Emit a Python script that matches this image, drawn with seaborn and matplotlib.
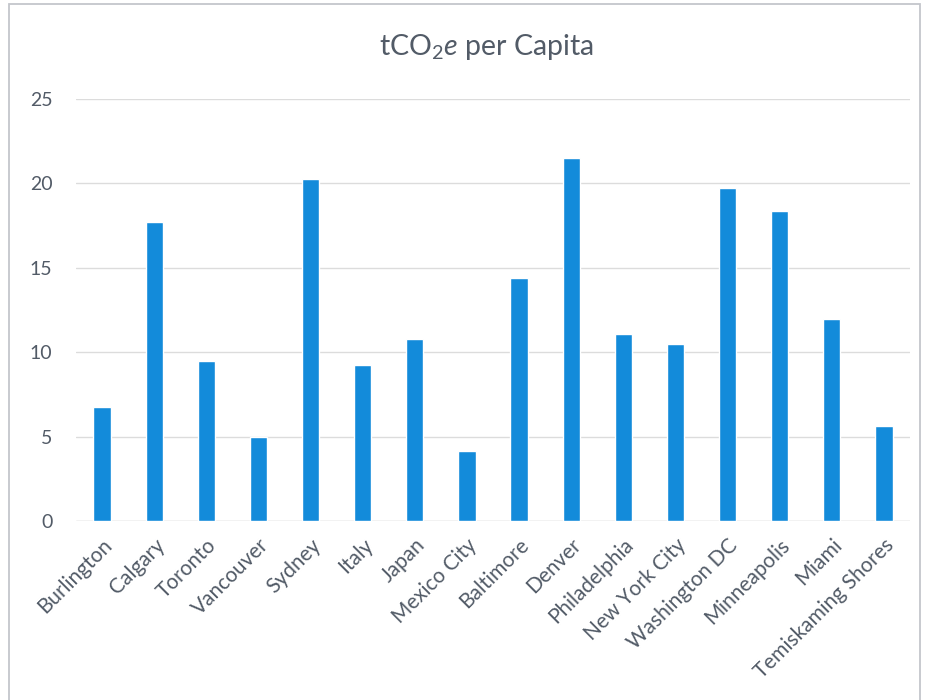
import matplotlib
matplotlib.use("Agg")
import matplotlib.pyplot as plt
import seaborn as sns
import pandas as pd
from matplotlib.patches import Rectangle

cities = ["Burlington", "Calgary", "Toronto", "Vancouver", "Sydney", "Italy", "Japan",
          "Mexico City", "Baltimore", "Denver", "Philadelphia", "New York City",
          "Washington DC", "Minneapolis", "Miami", "Temiskaming Shores"]
values = [6.75, 17.7, 9.5, 4.95, 20.25, 9.25, 10.8, 4.15, 14.4, 21.5, 11.05, 10.5,
          19.7, 18.35, 11.95, 5.65]
yticks = [0, 5, 10, 15, 20, 25]

sns.set_theme(style="white")
plt.rcParams['font.family'] = ['Lato', 'DejaVu Sans']
plt.rcParams['mathtext.fontset'] = 'custom'
plt.rcParams['mathtext.rm'] = 'Lato'
plt.rcParams['mathtext.it'] = 'Lato:italic'

text_color = "#525b67"
df = pd.DataFrame({"city": cities, "value": values})

fig = plt.figure(figsize=(9.25, 7), dpi=100)
ax = fig.add_axes([0.0822, 0.2557, 0.9016, 0.6029])
sns.barplot(data=df, x="city", y="value", color="#138BDA", saturation=1, width=0.33, ax=ax)

ax.set_ylim(0, 25)
ax.set_xlim(-0.5, len(cities) - 0.5)
ax.set_yticks(yticks)
ax.set_yticklabels([str(t) for t in yticks])
ax.yaxis.grid(True, color="#dcdcdc", linewidth=1)
ax.set_axisbelow(True)
for s in ax.spines.values():
    s.set_visible(False)
ax.axhline(0, color="#dcdcdc", linewidth=1, zorder=0)
ax.set_xlabel("")
ax.set_ylabel("")
ax.tick_params(axis="both", length=0, colors=text_color)
ax.tick_params(axis="x", labelsize=15, pad=10)
ax.tick_params(axis="y", labelsize=14, pad=17)
plt.setp(ax.get_xticklabels(), rotation=45, ha="right", rotation_mode="anchor")

fig.text(0.526, 0.933, r"tCO$_2$$\it{e}$ per Capita", ha="center", va="center",
         fontsize=20.5, color=text_color)

fig.patches.append(Rectangle((0.010, -0.01), 0.985, 1.005, transform=fig.transFigure,
                             fill=False, edgecolor="#c4c6cc", linewidth=1.3))

fig.savefig("out.png", dpi=100)
